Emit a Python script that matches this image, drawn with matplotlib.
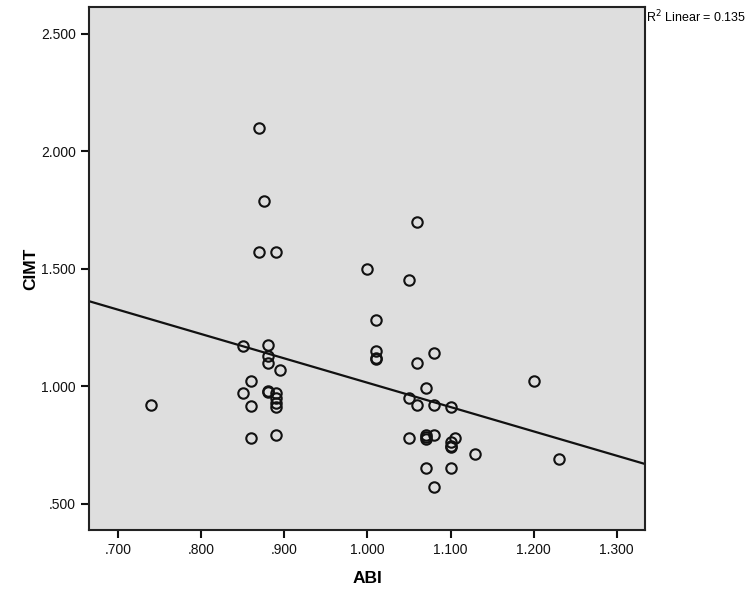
import numpy as np
import matplotlib
matplotlib.use("Agg")
from matplotlib import pyplot as plt
from matplotlib.ticker import FuncFormatter

# ABI vs CIMT
abi = [0.74,
       0.85, 0.85,
       0.86, 0.86, 0.86,
       0.87, 0.87,
       0.875,
       0.88, 0.88, 0.88, 0.88, 0.88,
       0.89, 0.89, 0.89, 0.89, 0.89, 0.89,
       0.895,
       1.00,
       1.01, 1.01, 1.01, 1.01,
       1.05, 1.05, 1.05,
       1.06, 1.06, 1.06,
       1.07, 1.07, 1.07, 1.07, 1.07,
       1.08, 1.08, 1.08, 1.08,
       1.10, 1.10, 1.10, 1.10, 1.10,
       1.105, 1.13, 1.20, 1.23]
cimt = [0.92,
        1.17, 0.97,
        1.02, 0.915, 0.78,
        2.10, 1.57,
        1.79,
        1.175, 1.13, 1.10, 0.98, 0.975,
        1.57, 0.97, 0.95, 0.93, 0.91, 0.79,
        1.07,
        1.50,
        1.28, 1.15, 1.12, 1.115,
        1.45, 0.95, 0.78,
        1.70, 1.10, 0.92,
        0.99, 0.79, 0.783, 0.776, 0.65,
        1.14, 0.92, 0.79, 0.57,
        0.91, 0.76, 0.745, 0.74, 0.65,
        0.78, 0.71, 1.02, 0.69]
r2_text = "R$^2$ Linear = 0.135"
xticks = [0.7, 0.8, 0.9, 1.0, 1.1, 1.2, 1.3]
yticks = [0.5, 1.0, 1.5, 2.0, 2.5]

plt.rcParams['font.family'] = ['Liberation Sans', 'DejaVu Sans']


def spss_fmt(v, pos=None):
    s = f"{v:.3f}"
    return s[1:] if s.startswith("0") else s


x = np.array(abi)
y = np.array(cimt)

fig = plt.figure(figsize=(7.5, 6.01), dpi=100)
ax = fig.add_axes([0.1187, 0.118, 0.7413, 0.870])
ax.set_facecolor('#dedede')

xlim = (0.665, 1.334)
ylim = (0.387, 2.613)

# linear fit line across the whole frame
slope, icpt = np.polyfit(x, y, 1)
xx = np.array(xlim)
ax.plot(xx, slope * xx + icpt, color='#111111', lw=1.6, zorder=2)

ax.plot(x, y, 'o', ms=7.5, mfc='none', mec='#111111', mew=1.5, zorder=3)

ax.set_xlim(*xlim)
ax.set_ylim(*ylim)
ax.set_xticks(xticks)
ax.set_yticks(yticks)
ax.xaxis.set_major_formatter(FuncFormatter(spss_fmt))
ax.yaxis.set_major_formatter(FuncFormatter(spss_fmt))
ax.tick_params(axis='both', direction='out', length=6, width=1.5,
               labelsize=10, colors='#111111', top=False, right=False)
for sp in ax.spines.values():
    sp.set_linewidth(1.5)
    sp.set_color('#222222')

ax.set_xlabel("ABI", fontsize=12.5, fontweight='bold', labelpad=10)
ax.set_ylabel("CIMT", fontsize=12.5, fontweight='bold', labelpad=2)

fig.text(0.861, 0.985, r2_text, fontsize=9, ha='left', va='top')

fig.savefig("out.png", dpi=100)
